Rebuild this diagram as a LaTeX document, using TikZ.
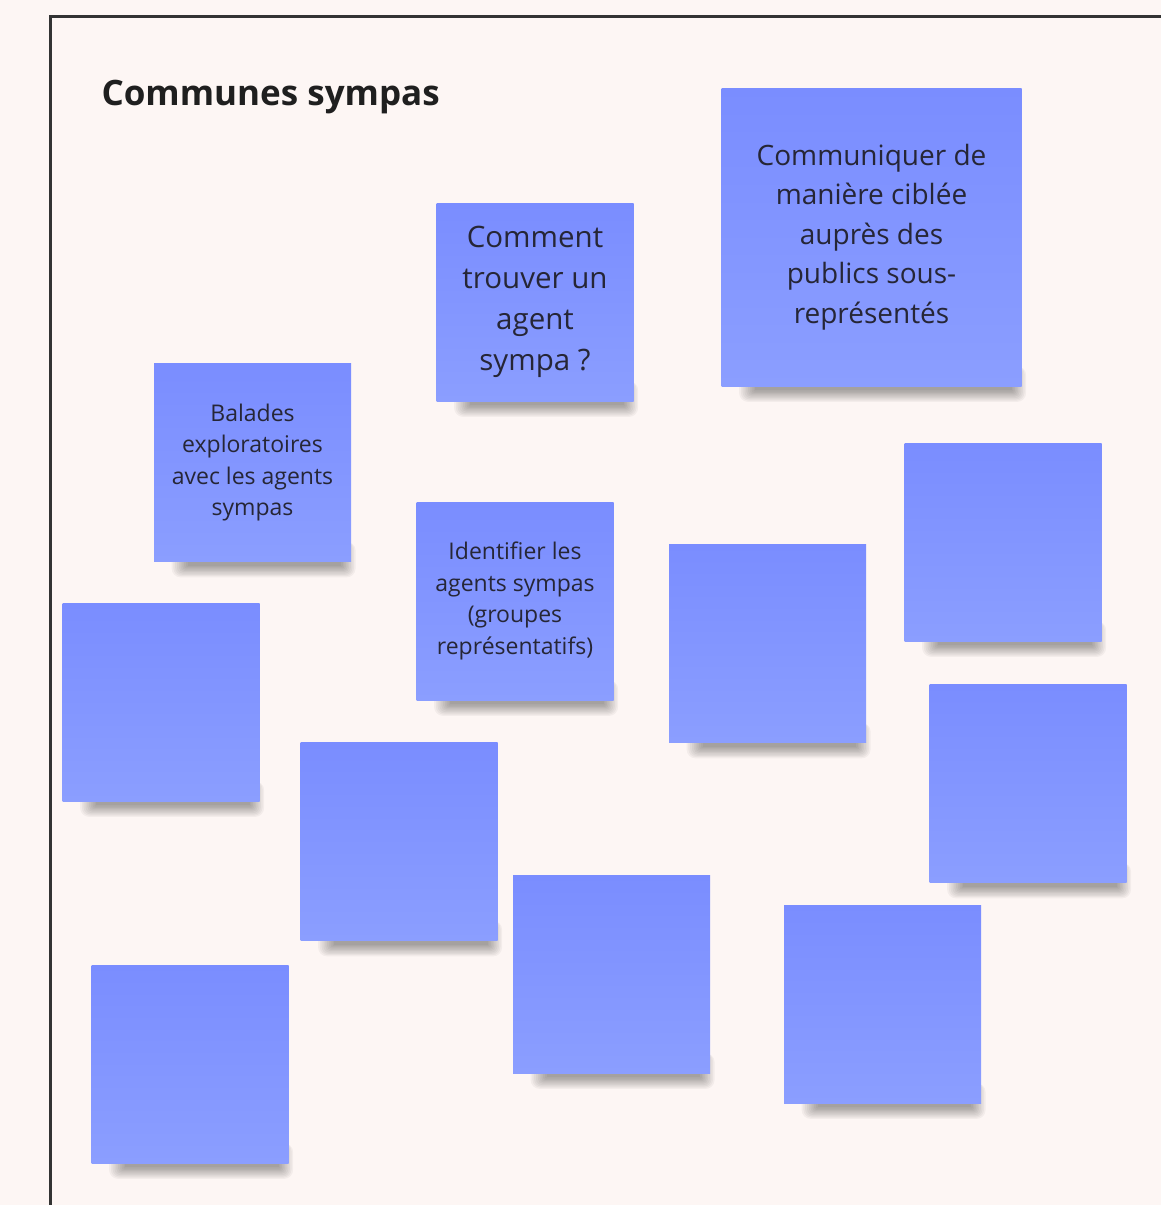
\documentclass[tikz,border=0pt]{standalone}
\usepackage{fontspec}
\setmainfont{Open Sans}
\usetikzlibrary{calc}
\pgfdeclarelayer{bglayer}
\pgfdeclarelayer{shadowlayer}
\pgfsetlayers{bglayer,shadowlayer,main}
\definecolor{bgc}{HTML}{FDF6F4}
\definecolor{stop}{HTML}{7A8DFF}
\definecolor{sbot}{HTML}{8B9EFF}
\definecolor{frame}{HTML}{333333}
\definecolor{txt}{HTML}{262636}
\tikzset{
  sticky/.style={rectangle, minimum width=197pt, minimum height=198pt, inner sep=0pt,
    top color=stop, bottom color=sbot, text=txt, align=center},
  shadowpiece/.style={fill=black, opacity=0.04},
  big/.style={font=\fontsize{29.5}{41}\selectfont},
  mid/.style={font=\fontsize{28}{39.5}\selectfont},
  small/.style={font=\fontsize{23}{31.5}\selectfont},
}
\begin{document}
\begin{tikzpicture}[x=1pt,y=-1pt]
\useasboundingbox (0,0) rectangle (1161,1205);
\begin{pgfonlayer}{bglayer}
\fill[bgc] (0,0) rectangle (1161,1205);
\end{pgfonlayer}
\coordinate (fbl) at (50,1210);
\coordinate (ftl) at (50,16);
\coordinate (ftr) at (1170,16);
\draw[frame, line width=3pt] (fbl) -- (ftl) -- (ftr);
\node[anchor=west, font=\fontsize{35}{42}\selectfont\bfseries, text=black!88] (title) at (98,97) {Communes sympas};

\node[sticky, big] (s1) at (535,302) {Comment\\trouver un\\agent\\sympa ?};
\node[sticky, mid, minimum width=300pt, minimum height=298pt] (s2) at (871.5,237) {Communiquer de\\manière ciblée\\auprès des\\publics sous-\\représentés};
\node[sticky, small] (s3) at (252.5,462.5) {Balades\\exploratoires\\avec les agents\\sympas};
\node[sticky, small] (s4) at (515,601) {Identifier les\\agents sympas\\(groupes\\représentatifs)};
\node[sticky] (s5) at (767.5,643.5) {};
\node[sticky] (s6) at (1003,542) {};
\node[sticky] (s7) at (161,702) {};
\node[sticky] (s8) at (1028,783.5) {};
\node[sticky] (s9) at (399,841.5) {};
\node[sticky] (s10) at (611.5,974) {};
\node[sticky] (s11) at (882.5,1004) {};
\node[sticky] (s12) at (190,1064) {};

\begin{pgfonlayer}{shadowlayer}
\foreach \n in {s1,s2,s3,s4,s5,s6,s7,s8,s9,s10,s11,s12}{
  \foreach \k in {0,...,9}{
    \fill[shadowpiece, rounded corners=\k pt]
      ($(\n.south west)+(34-1.8*\k,-20)$) rectangle ($(\n.south east)+(-10+1.6*\k,4+1.3*\k)$);
  }
}
\end{pgfonlayer}
\end{tikzpicture}
\end{document}
